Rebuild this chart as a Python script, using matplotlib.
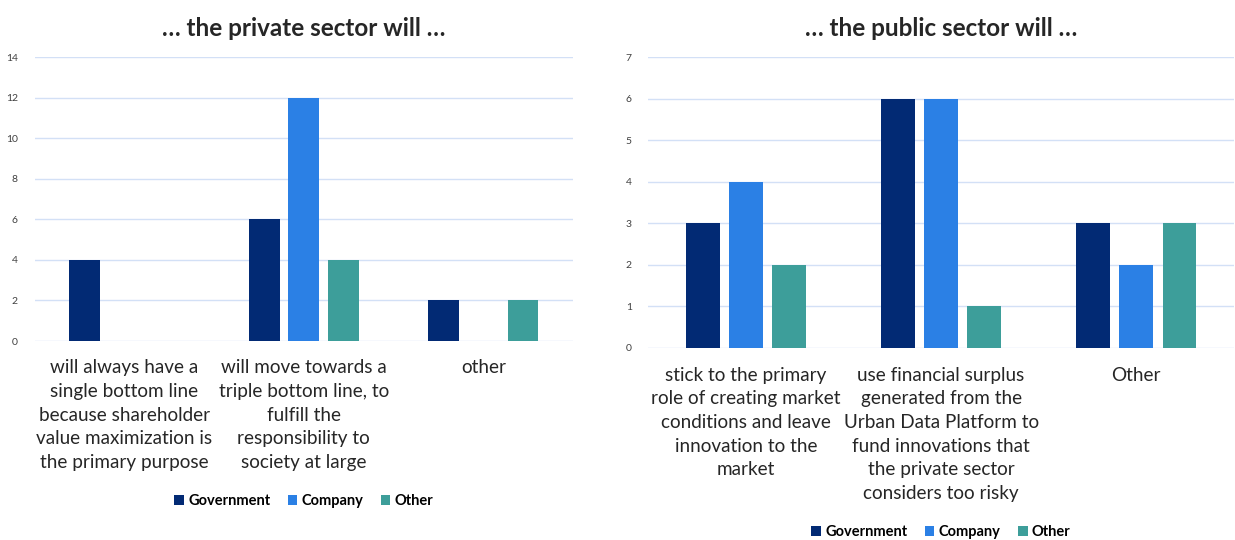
import matplotlib
matplotlib.use("Agg")
import matplotlib.pyplot as plt
import matplotlib.transforms as mtransforms
from matplotlib.patches import Patch
import numpy as np

plt.rcParams['font.family'] = ['Lato', 'DejaVu Sans']

series = ["Government", "Company", "Other"]
colors = ["#022a74", "#2b80e5", "#3d9e9a"]

private_title = "… the private sector will …"
private_categories = [
    "will always have a\nsingle bottom line\nbecause shareholder\nvalue maximization is\nthe primary purpose",
    "will move towards a\ntriple bottom line, to\nfulfill the\nresponsibility to\nsociety at large",
    "other",
]
private_values = {
    "Government": [4, 6, 2],
    "Company": [0, 12, 0],
    "Other": [0, 4, 2],
}
private_yticks = [0, 2, 4, 6, 8, 10, 12, 14]

public_title = "… the public sector will …"
public_categories = [
    "stick to the primary\nrole of creating market\nconditions and leave\ninnovation to the\nmarket",
    "use financial surplus\ngenerated from the\nUrban Data Platform to\nfund innovations that\nthe private sector\nconsiders too risky",
    "Other",
]
public_values = {
    "Government": [3, 6, 3],
    "Company": [4, 6, 2],
    "Other": [2, 1, 3],
}
public_yticks = [0, 1, 2, 3, 4, 5, 6, 7]

fig = plt.figure(figsize=(12.35, 5.4), dpi=100)
grid_color = "#d3e0f6"


def draw_panel(rect, title, categories, values, yticks, legend_y, title_y):
    ax = fig.add_axes(rect)
    x = np.arange(len(categories))
    width = 0.172
    step = 0.221
    for i, name in enumerate(series):
        ax.bar(x + (i - 1) * step, values[name], width=width,
               color=colors[i], zorder=3)
    ax.set_xlim(-0.5, len(categories) - 0.5)
    ax.set_ylim(0, yticks[-1])
    ax.set_yticks(yticks)
    ax.yaxis.grid(True, color=grid_color, linewidth=1.0, zorder=0)
    ax.set_axisbelow(True)
    for s in ax.spines.values():
        s.set_visible(False)
    ax.tick_params(axis='y', length=0, labelsize=7.5, labelcolor="#404040", pad=12)
    ax.set_xticks([])
    trans = mtransforms.blended_transform_factory(ax.transData, ax.transAxes)
    for xi, lab in zip(x, categories):
        ax.text(xi, -0.065, lab, transform=trans, ha='center', va='top',
                fontsize=13.6, color="#262626", linespacing=1.47)
    cx = rect[0] + rect[2] / 2
    fig.text(cx, title_y, title, ha='center', va='center', fontsize=17.5,
             fontweight='bold', color="#262626")
    handles = [Patch(facecolor=c, edgecolor='none') for c in colors]
    fig.legend(handles, series, loc='center', bbox_to_anchor=(cx, legend_y),
               ncol=3, frameon=False, handlelength=0.65, handleheight=0.65,
               handletextpad=0.3, columnspacing=1.2,
               prop={'weight': 'bold', 'size': 10.5})
    return ax


draw_panel([0.028, 0.3685, 0.436, 0.5259], private_title, private_categories,
           private_values, private_yticks, 0.072, 0.948)
draw_panel([0.525, 0.3556, 0.474, 0.5388], public_title, public_categories,
           public_values, public_yticks, 0.014, 0.948)

fig.savefig("out.png", dpi=100)
